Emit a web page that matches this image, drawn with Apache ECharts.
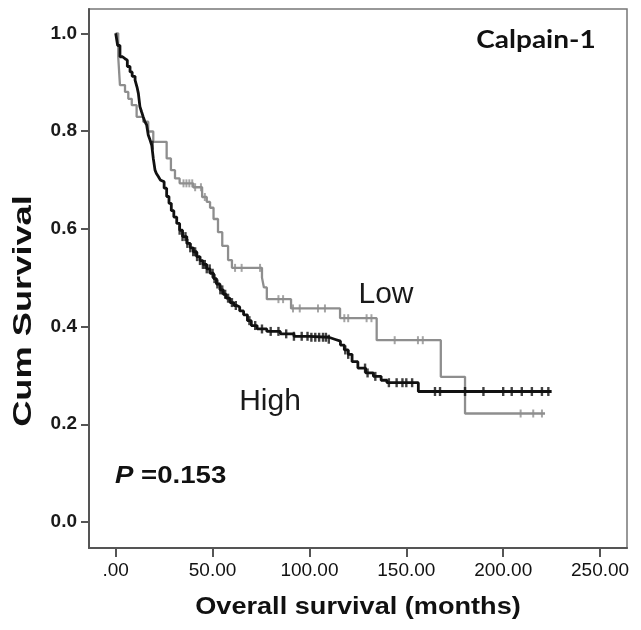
<!DOCTYPE html>
<html>
<head>
<meta charset="utf-8">
<script src="https://cdn.jsdelivr.net/npm/echarts@6/dist/echarts.min.js"></script>
<style>
  html, body { margin: 0; padding: 0; background: #fff; }
  #main { width: 641px; height: 630px; }
</style>
</head>
<body>
<div id="main"></div>
<script>
// High group (black) - KM step points
const highTime = [0, 1, 2.2, 3.5, 4.8, 6, 7.4, 8.5, 10, 11, 11.7, 12.5, 13.3, 14.2, 15, 16, 16.8, 17.7, 18.6, 19.4, 20.3, 21, 22, 23, 24, 25, 26.3, 27.5, 28.7, 30, 31.5, 33, 34.5, 36.7, 38.5, 40, 41.8, 43.5, 45, 47, 48.7, 50.5, 52, 53.8, 55.5, 57, 59, 61, 62.5, 64, 66, 68, 70, 73, 78, 85, 92, 100, 110, 113, 116, 118, 120, 122, 125, 129, 133, 137, 140, 156.2, 225]
const highSurv = [1.0, .975, .952, .948, .945, .932, .921, .912, .904, .89, .877, .85, .84, .829, .82, .812, .792, .782, .771, .744, .72, .713, .707, .70, .696, .683, .666, .652, .637, .624, .611, .597, .584, .570, .561, .553, .543, .535, .527, .518, .509, .498, .487, .475, .466, .458, .449, .443, .44, .432, .424, .412, .402, .395, .39, .385, .38, .378, .374, .37, .362, .352, .343, .328, .315, .305, .298, .29, .285, .267, .267]
const highCensor = [19, 33, 34.5, 36, 37, 38.5, 40, 41, 42, 43.5, 45, 46, 47, 48.5, 50, 51, 52.5, 54, 55, 56.5, 58, 60, 62, 69, 72, 75.5, 80, 84, 88, 92, 96, 99, 101, 103, 105, 107, 108.5, 110, 118.5, 120, 128.7, 130, 134, 141, 145, 148, 150, 153, 164.8, 167.4, 180.3, 189.8, 200, 204.4, 209.6, 214.8, 220, 223.3]

// Low group (gray)
const lowTime = [0, 1.3, 2.2, 4.8, 6.5, 8.3, 10.8, 14.2, 16.8, 19.4, 26.3, 28.5, 30.6, 33, 40, 44.6, 47, 48.7, 50.5, 52.8, 55, 58, 60, 75.5, 76.5, 78, 90.5, 115.8, 134.7, 167.8, 180.3, 221.6]
const lowSurv = [1.0, .952, .894, .88, .866, .853, .829, .819, .799, .778, .744, .72, .703, .693, .685, .665, .655, .643, .62, .593, .565, .536, .52, .5, .48, .456, .437, .417, .372, .297, .222, .222]
const lowCensor = [35, 36.5, 38, 39.5, 41, 44, 46, 61.6, 65, 74.5, 84, 86.4, 91.5, 95, 104.4, 108, 118, 120, 129.5, 132, 144, 156, 158.5, 209, 215.5, 220]

const xTicks = [0, 50, 100, 150, 200, 250]
const yTicks = [0, 0.2, 0.4, 0.6, 0.8, 1.0]

function survAt(times, surv, t) {
  let s = surv[0]
  for (let i = 0; i < times.length; i++) {
    if (times[i] <= t) s = surv[i]
  }
  return s
}

let myEcharts = echarts.init(document.querySelector('#main'))
let option = {
  animation: false,
  backgroundColor: '#fff',
  grid: {
    show: true,
    left: 89,
    top: 9,
    width: 538,
    height: 539,
    borderColor: '#777',
    borderWidth: 1.5
  },
  xAxis: {
    type: 'value',
    min: -13.78,
    max: 263.9,
    splitLine: { show: false },
    axisLine: { onZero: false, lineStyle: { color: '#555', width: 2 } },
    axisTick: { customValues: xTicks, length: 9, lineStyle: { color: '#555', width: 2 } },
    axisLabel: {
      customValues: xTicks,
      margin: 13,
      color: '#111',
      fontSize: 19,
      fontFamily: 'Liberation Sans',
      formatter: v => v === 0 ? '.00' : v.toFixed(2)
    }
  },
  yAxis: {
    type: 'value',
    min: -0.0532,
    max: 1.0497,
    splitLine: { show: false },
    axisLine: { onZero: false, lineStyle: { color: '#555', width: 2 } },
    axisTick: { customValues: yTicks, length: 8, lineStyle: { color: '#555', width: 2 } },
    axisLabel: {
      customValues: yTicks,
      margin: 12,
      color: '#1a1a1a',
      fontSize: 19,
      fontWeight: 'bold',
      fontFamily: 'Liberation Sans',
      formatter: v => v.toFixed(1)
    }
  },
  series: [
    {
      name: 'Low',
      type: 'line',
      step: 'end',
      symbol: 'none',
      data: lowTime.map((t, i) => [t, lowSurv[i]]),
      lineStyle: { color: '#8e8e8e', width: 2.3 },
      z: 2
    },
    {
      name: 'Low censored',
      type: 'scatter',
      symbol: 'rect',
      symbolSize: [2, 8],
      data: lowCensor.map(t => [t, survAt(lowTime, lowSurv, t)]),
      itemStyle: { color: '#8e8e8e' },
      z: 2
    },
    {
      name: 'High',
      type: 'line',
      step: 'end',
      symbol: 'none',
      data: highTime.map((t, i) => [t, highSurv[i]]),
      lineStyle: { color: '#111', width: 2.8 },
      z: 3
    },
    {
      name: 'High censored',
      type: 'scatter',
      symbol: 'rect',
      symbolSize: [2.4, 9],
      data: highCensor.map(t => [t, survAt(highTime, highSurv, t)]),
      itemStyle: { color: '#111' },
      z: 3
    }
  ],
  graphic: [
    {
      type: 'text', x: 536, y: 40, scaleX: 1.12,
      style: { text: 'Calpain-1', align: 'center', verticalAlign: 'middle', fill: '#111', font: 'bold 25px Lato' }
    },
    {
      type: 'text', x: 386, y: 295,
      style: { text: 'Low', align: 'center', verticalAlign: 'middle', fill: '#1a1a1a', font: '30px "Liberation Sans"' }
    },
    {
      type: 'text', x: 270, y: 402,
      style: { text: 'High', align: 'center', verticalAlign: 'middle', fill: '#1a1a1a', font: '30px "Liberation Sans"' }
    },
    {
      type: 'text', x: 115, y: 476, scaleX: 1.15,
      style: {
        text: '{p|P} =0.153', align: 'left', verticalAlign: 'middle', fill: '#111', font: 'bold 24px "Liberation Sans"',
        rich: { p: { fontStyle: 'italic', fontWeight: 'bold', fontSize: 24, fontFamily: 'Liberation Sans' } }
      }
    },
    {
      type: 'text', x: 24, y: 311, rotation: Math.PI / 2, scaleX: 1.45,
      style: { text: 'Cum Survival', align: 'center', verticalAlign: 'middle', fill: '#111', font: 'bold 25px "Liberation Sans"' }
    },
    {
      type: 'text', x: 358, y: 607, scaleX: 1.13,
      style: { text: 'Overall survival (months)', align: 'center', verticalAlign: 'middle', fill: '#111', font: 'bold 24px "Liberation Sans"' }
    }
  ]
}
myEcharts.setOption(option)
</script>
</body>
</html>
